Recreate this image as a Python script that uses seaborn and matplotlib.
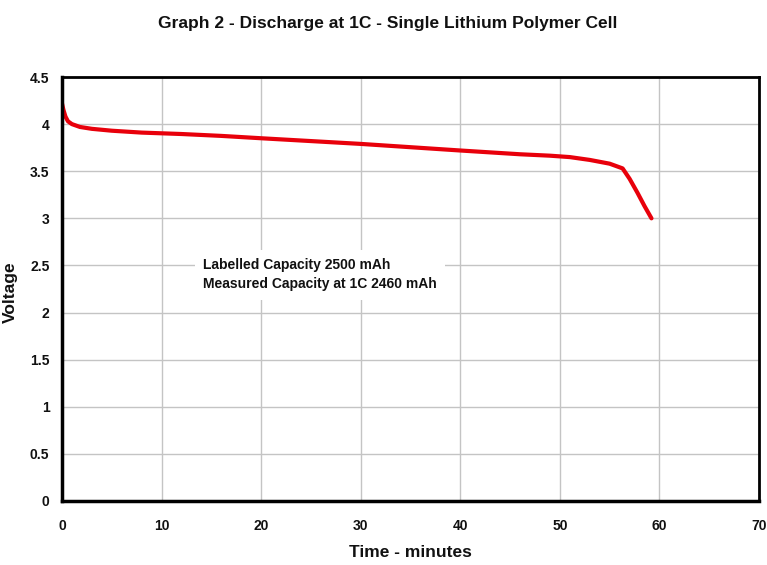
import matplotlib
matplotlib.use("Agg")
import matplotlib.pyplot as plt
import seaborn as sns
import pandas as pd

# discharge curve
minutes = [0, 0.15, 0.35, 0.6, 1.0, 1.8, 3, 5, 8, 12, 16, 20, 25, 30, 35, 40, 43,
           46, 49, 51, 53, 55, 56.3, 57, 57.8, 58.5, 59.2]
voltage = [4.22, 4.15, 4.08, 4.03, 4.0, 3.97, 3.95, 3.93, 3.91, 3.895, 3.875, 3.85, 3.82,
           3.79, 3.755, 3.72, 3.70, 3.68, 3.665, 3.65, 3.62, 3.58, 3.53, 3.42, 3.27, 3.13, 3.0]

xticks = [0, 10, 20, 30, 40, 50, 60, 70]
yticks = [0, 0.5, 1, 1.5, 2, 2.5, 3, 3.5, 4, 4.5]
ytick_labels = ["0", "0.5", "1", "1.5", "2", "2.5", "3", "3.5", "4", "4.5"]

df = pd.DataFrame({"Time": minutes, "Voltage": voltage})

sns.set_style("white")
plt.rcParams["font.family"] = ["Liberation Sans", "DejaVu Sans"]
plt.rcParams["text.color"] = "#111111"
plt.rcParams["axes.labelcolor"] = "#111111"
plt.rcParams["xtick.labelcolor"] = "#111111"
plt.rcParams["ytick.labelcolor"] = "#111111"

fig = plt.figure(figsize=(7.67, 5.65), dpi=100)
ax = fig.add_axes([0.0808, 0.1133, 0.9088, 0.7504])

sns.lineplot(data=df, x="Time", y="Voltage", color="#e8000b", linewidth=3, ax=ax)

ax.set_xlim(0, 70)
ax.set_ylim(0, 4.5)
ax.set_xticks(xticks)
ax.set_yticks(yticks)
ax.set_yticklabels(ytick_labels)
ax.grid(True, color="#c4c4c4", linewidth=1)
ax.set_axisbelow(True)
ax.tick_params(axis="both", length=3, color="#999999", labelsize=10, pad=10)
for lab in ax.get_xticklabels() + ax.get_yticklabels():
    lab.set_fontweight("bold")
ax.tick_params(axis="y", pad=6)

for side in ["left", "bottom"]:
    ax.spines[side].set_linewidth(2.5)
for side in ["top", "right"]:
    ax.spines[side].set_linewidth(2)
for s in ax.spines.values():
    s.set_color("black")
    s.set_visible(True)

ax.set_xlabel("Time - minutes", fontsize=12.5, fontweight="bold")
ax.set_ylabel("Voltage", fontsize=12.5, fontweight="bold")
# place labels where the reference has them (pixels -> axes fraction)
ax.xaxis.set_label_coords((410 - 62) / 697, -(545 - 501) / 424)
ax.yaxis.set_label_coords(-(62 - 18) / 697, (501 - 292) / 424)
fig.suptitle("Graph 2 - Discharge at 1C - Single Lithium Polymer Cell",
             fontsize=12.5, fontweight="bold", x=0.505, y=0.972)

ax.text(14.2, 2.4, "Labelled Capacity 2500 mAh\nMeasured Capacity at 1C 2460 mAh",
        fontsize=10, fontweight="bold", ha="left", va="center", linespacing=1.45,
        bbox=dict(facecolor="white", edgecolor="none", pad=6))

fig.savefig("out.png", dpi=100)
